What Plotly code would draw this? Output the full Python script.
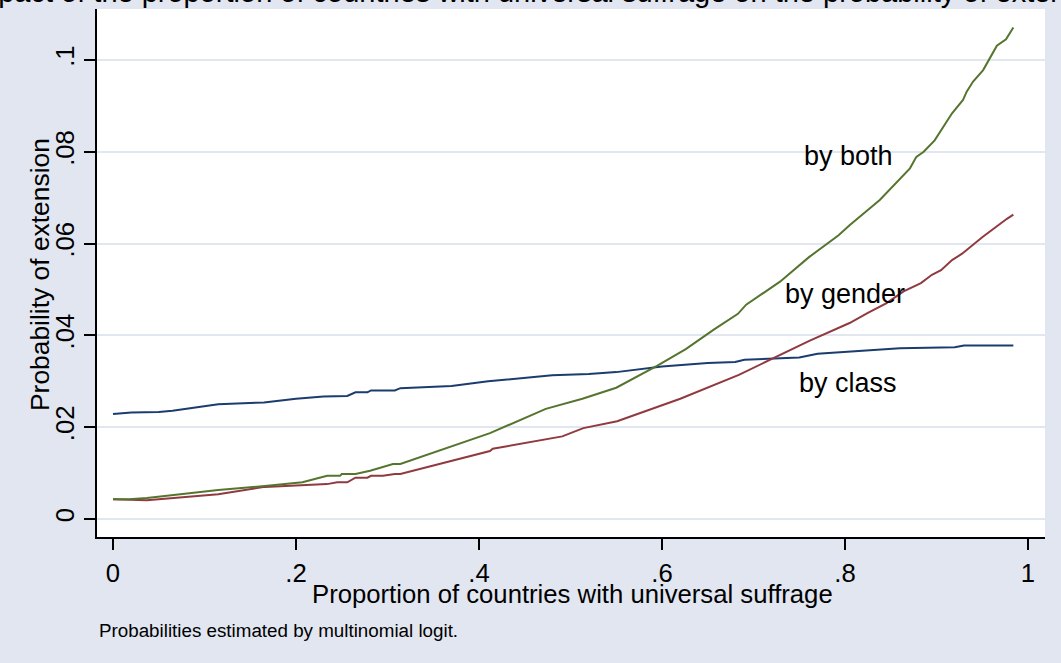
import plotly.graph_objects as go

# ---- data ----
x_class = [0.0, 0.02, 0.05, 0.065, 0.115, 0.165, 0.2, 0.23, 0.256, 0.265, 0.278, 0.282, 0.308, 0.314,
           0.37, 0.41, 0.48, 0.52, 0.55, 0.6, 0.65, 0.68, 0.69, 0.75, 0.77, 0.82, 0.86, 0.92, 0.93, 0.984]
y_class = [0.0229, 0.0232, 0.0233, 0.0236, 0.0250, 0.0254, 0.0262, 0.0267, 0.0268, 0.0276, 0.0276, 0.0280, 0.0280, 0.0285,
           0.0290, 0.0300, 0.0313, 0.0316, 0.0320, 0.0332, 0.0340, 0.0342, 0.0347, 0.0352, 0.0360, 0.0366, 0.0372, 0.0374, 0.0378, 0.0378]

x_gender = [0.0, 0.037, 0.115, 0.166, 0.234, 0.245, 0.256, 0.265, 0.278, 0.282, 0.295, 0.308, 0.314,
            0.412, 0.415, 0.491, 0.514, 0.551, 0.620, 0.684, 0.761, 0.793, 0.805, 0.825, 0.845, 0.864,
            0.872, 0.883, 0.895, 0.905, 0.917, 0.928, 0.950, 0.969, 0.977, 0.984]
y_gender = [0.0043, 0.0041, 0.0054, 0.0070, 0.0076, 0.0080, 0.0080, 0.0090, 0.0090, 0.0094, 0.0094, 0.0098, 0.0098,
            0.0148, 0.0153, 0.0180, 0.0198, 0.0213, 0.0262, 0.0314, 0.0388, 0.0417, 0.0427, 0.0449, 0.0470, 0.0496,
            0.0503, 0.0514, 0.0532, 0.0542, 0.0564, 0.0578, 0.0614, 0.0643, 0.0654, 0.0663]

x_both = [0.0, 0.018, 0.037, 0.115, 0.166, 0.207, 0.234, 0.248, 0.250, 0.265, 0.281, 0.292, 0.306, 0.314,
          0.412, 0.473, 0.513, 0.550, 0.595, 0.626, 0.657, 0.683, 0.692, 0.729, 0.761, 0.793, 0.805, 0.823,
          0.838, 0.871, 0.878, 0.886, 0.898, 0.917, 0.929, 0.933, 0.940, 0.951, 0.966, 0.976, 0.984]
y_both = [0.0043, 0.0043, 0.0046, 0.0063, 0.0072, 0.0080, 0.0094, 0.0094, 0.0098, 0.0098, 0.0105, 0.0111, 0.0120, 0.0120,
          0.0187, 0.0240, 0.0262, 0.0286, 0.0334, 0.0370, 0.0413, 0.0447, 0.0467, 0.0517, 0.0571, 0.0618, 0.0640, 0.0670,
          0.0695, 0.0764, 0.0789, 0.0800, 0.0825, 0.0884, 0.0913, 0.0931, 0.0953, 0.0978, 0.1031, 0.1045, 0.1071]

series_names = ["by class", "by gender", "by both"]
series_colors = ["#1A3C6E", "#903A40", "#55752F"]
label_x = [0.803, 0.80, 0.804]
label_y = [0.0296, 0.0490, 0.0791]

x_ticks = [0, 0.2, 0.4, 0.6, 0.8, 1]
x_tick_text = ["0", ".2", ".4", ".6", ".8", "1"]
y_ticks = [0, 0.02, 0.04, 0.06, 0.08, 0.1]
y_tick_text = ["0", ".02", ".04", ".06", ".08", ".1"]

title_text = "Impact of the proportion of countries with universal suffrage on the probability of extension"
x_title = "Proportion of countries with universal suffrage"
y_title = "Probability of extension"
note_text = "Probabilities estimated by multinomial logit."

BG = "#E1E6F0"
FONT = "Liberation Sans, Arial, sans-serif"
AX = 25.7

fig = go.Figure()
for xs, ys, name, col in zip([x_class, x_gender, x_both], [y_class, y_gender, y_both], series_names, series_colors):
    fig.add_trace(go.Scatter(x=xs, y=ys, mode="lines", name=name,
                             line=dict(color=col, width=2), showlegend=False))

for name, lx, ly in zip(series_names, label_x, label_y):
    fig.add_annotation(x=lx, y=ly, xref="x", yref="y", text=name, showarrow=False,
                       font=dict(family=FONT, size=27, color="black"))

W, H = 1061, 663
ml, mr, mt, mb = 97, 16, 9, 126
pw, ph = W - ml - mr, H - mt - mb

def px_x(p):
    return (p - ml) / pw

def px_y(p):
    return 1 - (p - mt) / ph

fig.add_annotation(x=px_x(572), y=px_y(594), xref="paper", yref="paper", text=x_title,
                   showarrow=False, font=dict(family=FONT, size=AX, color="black"),
                   xanchor="center", yanchor="middle")
fig.add_annotation(x=px_x(40), y=px_y(275), xref="paper", yref="paper", text=y_title,
                   showarrow=False, textangle=-90, font=dict(family=FONT, size=26.4, color="black"),
                   xanchor="center", yanchor="middle")
fig.add_annotation(x=px_x(97), y=px_y(630), xref="paper", yref="paper", text=note_text,
                   showarrow=False, font=dict(family=FONT, size=18.8, color="black"),
                   xanchor="left", yanchor="middle")
fig.add_annotation(x=px_x(-36), y=px_y(-8), xref="paper", yref="paper", text=title_text,
                   showarrow=False, font=dict(family=FONT, size=29, color="black"),
                   xanchor="left", yanchor="middle")

fig.update_xaxes(range=[-0.0175, 1.0186], tickvals=x_ticks, ticktext=x_tick_text,
                 showgrid=False, zeroline=False, showline=True, linecolor="black", linewidth=2,
                 ticks="outside", ticklen=11, tickwidth=2, tickcolor="black",
                 tickfont=dict(family=FONT, size=AX, color="black"), ticklabelstandoff=1)
fig.update_yaxes(range=[-0.00392, 0.11111], tickvals=y_ticks, ticktext=y_tick_text,
                 showgrid=True, gridcolor=BG, gridwidth=2, zeroline=False,
                 showline=True, linecolor="black", linewidth=2,
                 ticks="outside", ticklen=11, tickwidth=2, tickcolor="black", tickangle=-90,
                 tickfont=dict(family=FONT, size=AX, color="black"), ticklabelstandoff=0)

fig.update_layout(width=W, height=H, margin=dict(l=ml, r=mr, t=mt, b=mb),
                  paper_bgcolor=BG, plot_bgcolor="white", showlegend=False)

fig.write_html("out.html", config={"displayModeBar": False},
               post_script="document.body.style.margin='0';")
